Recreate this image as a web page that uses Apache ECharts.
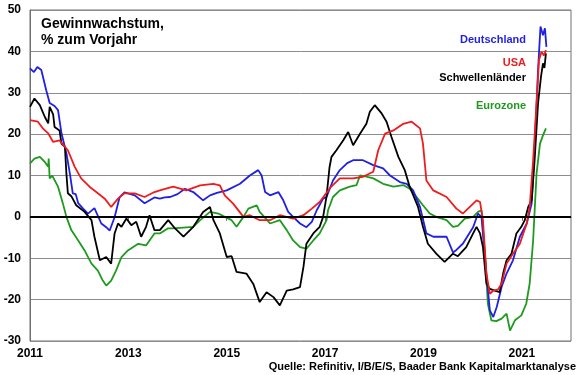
<!DOCTYPE html>
<html>
<head>
<meta charset="utf-8">
<script src="https://cdn.jsdelivr.net/npm/echarts@6/dist/echarts.min.js"></script>
<style>
  html, body { margin: 0; padding: 0; background: #fff; }
  #chart { width: 580px; height: 375px; }
</style>
</head>
<body>
<div id="chart"></div>
<script>
// Gewinnwachstum, % zum Vorjahr -- [Jahr (dezimal), Wert]
var deutschland = [
  [2011.00, 35.9], [2011.08, 35.0], [2011.15, 36.2], [2011.23, 35.5], [2011.33, 30.6],
  [2011.40, 27.5], [2011.50, 26.8], [2011.57, 25.8], [2011.64, 20.2], [2011.74, 15.4],
  [2011.81, 10.5], [2011.87, 5.7], [2011.93, 5.5], [2011.98, 3.3], [2012.08, 2.0],
  [2012.18, 0.8], [2012.31, 2.1], [2012.45, -1.6], [2012.55, -2.5], [2012.62, -3.3],
  [2012.72, -0.1], [2012.82, 4.7], [2012.92, 5.9], [2013.13, 5.2], [2013.33, 3.3],
  [2013.53, 4.7], [2013.64, 4.4], [2013.74, 4.7], [2013.85, 4.8], [2014.00, 5.5],
  [2014.15, 6.8], [2014.32, 6.0], [2014.52, 4.0], [2014.66, 5.2], [2014.80, 5.8],
  [2015.00, 6.4], [2015.27, 8.0], [2015.47, 10.0], [2015.64, 11.3], [2015.71, 10.0],
  [2015.78, 6.0], [2015.88, 5.2], [2016.05, 6.0], [2016.15, 4.0], [2016.25, 1.2],
  [2016.35, 0.0], [2016.49, -1.6], [2016.62, -2.5], [2016.73, -1.2], [2016.83, 1.6],
  [2016.96, 4.4], [2017.03, 4.8], [2017.16, 8.8], [2017.30, 11.3], [2017.45, 13.0],
  [2017.57, 13.7], [2017.77, 13.7], [2017.98, 12.5], [2018.18, 11.7], [2018.32, 10.0],
  [2018.52, 8.4], [2018.66, 8.0], [2018.79, 6.4], [2018.93, 2.4], [2019.06, -4.0],
  [2019.20, -4.8], [2019.47, -4.8], [2019.60, -8.6], [2019.67, -8.0], [2019.80, -6.5],
  [2020.01, -2.5], [2020.11, 0.8], [2020.18, 0.0], [2020.28, -13.7], [2020.35, -22.6],
  [2020.42, -24.2], [2020.49, -21.8], [2020.59, -16.9], [2020.69, -13.7], [2020.82, -10.5],
  [2020.96, -4.8], [2021.10, -1.6], [2021.20, 3.2], [2021.26, 16.9], [2021.33, 35.5],
  [2021.38, 46.0], [2021.43, 43.9], [2021.47, 45.6], [2021.50, 41.1]
];
var usa = [
  [2011.00, 23.4], [2011.16, 23.0], [2011.26, 21.4], [2011.37, 20.2], [2011.47, 18.1],
  [2011.60, 18.5], [2011.77, 16.1], [2011.91, 12.1], [2012.04, 9.3], [2012.21, 7.3],
  [2012.38, 5.7], [2012.52, 4.4], [2012.65, 2.4], [2012.79, 4.4], [2012.92, 5.7],
  [2013.13, 5.7], [2013.33, 4.8], [2013.53, 6.0], [2013.64, 6.4], [2013.91, 7.3],
  [2014.18, 6.4], [2014.46, 7.6], [2014.73, 8.0], [2014.86, 7.6], [2014.96, 5.2],
  [2015.13, 3.2], [2015.34, 0.0], [2015.47, 0.4], [2015.67, -0.8], [2015.88, -0.8],
  [2016.08, 0.4], [2016.35, -0.4], [2016.56, 0.4], [2016.73, 2.0], [2016.89, 3.6],
  [2017.10, 7.0], [2017.30, 9.3], [2017.57, 9.3], [2017.77, 9.7], [2017.98, 10.9],
  [2018.08, 16.1], [2018.22, 20.1], [2018.39, 20.9], [2018.59, 22.5], [2018.76, 23.0],
  [2018.93, 21.4], [2018.99, 17.7], [2019.06, 8.8], [2019.20, 6.4], [2019.47, 4.8],
  [2019.67, 2.0], [2019.80, 0.8], [2020.08, 4.0], [2020.15, 3.6], [2020.21, -0.8],
  [2020.28, -13.7], [2020.35, -18.6], [2020.42, -17.8], [2020.52, -17.5], [2020.59, -16.1],
  [2020.69, -11.3], [2020.82, -8.9], [2020.96, -6.5], [2021.03, -4.0], [2021.10, -1.6],
  [2021.16, 2.4], [2021.23, 13.7], [2021.30, 27.4], [2021.35, 37.9], [2021.40, 39.9],
  [2021.45, 39.0], [2021.49, 40.3]
];
var schwellenlaender = [
  [2011.00, 26.6], [2011.09, 28.6], [2011.20, 27.0], [2011.30, 24.2], [2011.37, 22.6],
  [2011.40, 26.6], [2011.47, 24.8], [2011.50, 21.7], [2011.60, 20.9], [2011.64, 17.7],
  [2011.71, 16.9], [2011.74, 10.5], [2011.77, 5.7], [2011.84, 5.0], [2011.94, 2.8],
  [2012.11, 1.2], [2012.25, -0.8], [2012.31, -4.8], [2012.42, -10.5], [2012.55, -9.7],
  [2012.65, -11.3], [2012.72, -4.0], [2012.79, -1.6], [2012.86, -2.4], [2012.96, -0.4],
  [2013.06, -2.0], [2013.16, -1.2], [2013.26, -4.8], [2013.36, -2.4], [2013.43, 0.4],
  [2013.53, -3.2], [2013.64, -3.2], [2013.81, -0.8], [2013.95, -2.8], [2014.12, -4.8],
  [2014.32, -2.4], [2014.52, 1.2], [2014.66, 2.4], [2014.73, -0.8], [2014.86, -4.0],
  [2015.00, -9.7], [2015.10, -9.5], [2015.20, -13.3], [2015.40, -13.7], [2015.54, -16.2],
  [2015.67, -20.6], [2015.81, -18.2], [2015.95, -19.4], [2016.08, -21.4], [2016.22, -17.8],
  [2016.35, -17.5], [2016.49, -17.0], [2016.56, -12.1], [2016.62, -6.5], [2016.76, -4.0],
  [2016.89, -2.4], [2016.96, 0.0], [2017.03, 5.0], [2017.09, 12.0], [2017.13, 14.5],
  [2017.23, 16.1], [2017.37, 18.5], [2017.47, 20.5], [2017.57, 17.3], [2017.71, 20.1],
  [2017.84, 22.5], [2017.91, 25.4], [2018.01, 27.0], [2018.15, 25.0], [2018.25, 23.0],
  [2018.35, 19.3], [2018.49, 14.5], [2018.62, 11.3], [2018.72, 7.3], [2018.89, 2.4],
  [2018.99, -2.4], [2019.09, -6.5], [2019.26, -8.9], [2019.43, -10.9], [2019.60, -8.9],
  [2019.70, -9.5], [2019.87, -7.3], [2020.01, -4.0], [2020.08, -2.4], [2020.15, -4.0],
  [2020.21, -7.3], [2020.28, -16.1], [2020.35, -17.4], [2020.45, -17.8], [2020.55, -18.2],
  [2020.62, -13.7], [2020.69, -10.5], [2020.79, -8.9], [2020.89, -4.0], [2020.99, -2.4],
  [2021.06, -0.8], [2021.13, 2.4], [2021.20, 4.0], [2021.26, 13.7], [2021.33, 27.4],
  [2021.39, 33.9], [2021.43, 37.1], [2021.46, 36.0], [2021.49, 39.5]
];
var eurozone = [
  [2011.00, 12.9], [2011.09, 14.1], [2011.20, 14.5], [2011.30, 13.3], [2011.37, 12.1],
  [2011.38, 14.1], [2011.40, 9.3], [2011.45, 10.0], [2011.57, 7.3], [2011.67, 3.2],
  [2011.74, 0.0], [2011.84, -3.2], [2011.98, -5.7], [2012.11, -8.1], [2012.25, -11.3],
  [2012.38, -13.0], [2012.48, -15.4], [2012.55, -16.6], [2012.65, -15.4], [2012.75, -13.0],
  [2012.86, -9.7], [2012.99, -8.1], [2013.20, -6.5], [2013.36, -6.9], [2013.53, -4.0],
  [2013.64, -4.0], [2013.80, -2.8], [2013.91, -2.8], [2014.32, -2.4], [2014.46, -0.8],
  [2014.66, 1.2], [2014.83, 0.8], [2014.96, 0.0], [2015.10, -0.8], [2015.20, -2.4],
  [2015.34, 0.0], [2015.44, 2.0], [2015.61, 2.8], [2015.67, 1.2], [2015.80, -0.5],
  [2015.88, -1.6], [2016.08, -0.8], [2016.22, -3.2], [2016.35, -5.7], [2016.49, -7.3],
  [2016.62, -7.7], [2016.76, -5.7], [2016.89, -4.0], [2017.03, -0.8], [2017.06, 1.6],
  [2017.16, 4.8], [2017.30, 6.4], [2017.50, 7.3], [2017.64, 7.7], [2017.71, 10.0],
  [2017.84, 9.7], [2017.98, 9.3], [2018.18, 8.0], [2018.39, 7.3], [2018.59, 7.7],
  [2018.72, 6.8], [2018.86, 4.8], [2018.99, 2.8], [2019.13, 0.8], [2019.26, 0.0],
  [2019.47, -0.8], [2019.60, -2.4], [2019.70, -2.2], [2019.84, -0.4], [2020.01, 0.0],
  [2020.11, 1.2], [2020.18, 1.6], [2020.25, -8.9], [2020.31, -21.0], [2020.38, -25.0],
  [2020.48, -25.2], [2020.59, -24.6], [2020.69, -23.4], [2020.76, -27.5], [2020.86, -25.0],
  [2020.99, -23.8], [2021.09, -21.0], [2021.16, -16.1], [2021.23, -5.7], [2021.30, 10.5],
  [2021.37, 17.7], [2021.43, 19.7], [2021.49, 21.4]
];
var xTicks = [2011, 2013, 2015, 2017, 2019, 2021];

var FONT = 'Arial, "Liberation Sans", sans-serif';
var BLUE = '#1f1fe6', RED = '#ee1c1c', BLACK = '#000000', GREEN = '#1e9a1e';

var chart = echarts.init(document.getElementById('chart'));

function line(name, data, color, extra) {
  var s = {
    name: name,
    type: 'line',
    data: data,
    showSymbol: false,
    symbol: 'none',
    lineStyle: { color: color, width: 1.8 },
    itemStyle: { color: color },
    animation: false
  };
  return Object.assign(s, extra || {});
}

chart.setOption({
  animation: false,
  grid: {
    left: 30, right: 9, top: 10, bottom: 34,
    show: true, borderColor: '#707070', borderWidth: 1
  },
  xAxis: {
    type: 'value',
    min: 2011, max: 2022,
    axisLine: { show: true, lineStyle: { color: '#707070' } },
    axisTick: { show: true, length: 4, inside: false, customValues: xTicks, lineStyle: { color: '#707070' } },
    axisLabel: {
      customValues: xTicks, margin: 7,
      color: '#000', fontFamily: FONT, fontWeight: 'bold', fontSize: 12,
      formatter: function (v) { return String(Math.round(v)); }
    },
    splitLine: { show: false }
  },
  yAxis: {
    type: 'value',
    min: -30, max: 50, interval: 10,
    axisLine: { show: true, lineStyle: { color: '#707070' } },
    axisTick: { show: false },
    axisLabel: { margin: 9, color: '#000', fontFamily: FONT, fontWeight: 'bold', fontSize: 12 },
    splitLine: { show: true, lineStyle: { color: '#8c8c8c', width: 1 } }
  },
  series: [
    line('Eurozone', eurozone, GREEN, {
      markLine: {
        silent: true, symbol: 'none', label: { show: false },
        lineStyle: { color: '#000', width: 2, type: 'solid' },
        data: [{ yAxis: 0 }]
      }
    }),
    line('Deutschland', deutschland, BLUE),
    line('Schwellenländer', schwellenlaender, BLACK),
    line('USA', usa, RED)
  ],
  graphic: [
    { type: 'text', left: 41, top: 16, style: { text: 'Gewinnwachstum,\n% zum Vorjahr', fill: '#000', font: 'bold 14px ' + FONT, lineHeight: 16 } },
    { type: 'text', right: 54, top: 34, style: { text: 'Deutschland', fill: BLUE, font: 'bold 11px ' + FONT } },
    { type: 'text', right: 54, top: 57, style: { text: 'USA', fill: RED, font: 'bold 11px ' + FONT } },
    { type: 'text', right: 54, top: 72, style: { text: 'Schwellenländer', fill: BLACK, font: 'bold 11px ' + FONT } },
    { type: 'text', right: 54, top: 100, style: { text: 'Eurozone', fill: GREEN, font: 'bold 11px ' + FONT } },
    { type: 'text', right: 4, top: 361, style: { text: 'Quelle: Refinitiv, I/B/E/S, Baader Bank Kapitalmarktanalyse', fill: '#000', font: 'bold 11px ' + FONT } }
  ]
});
</script>
</body>
</html>
